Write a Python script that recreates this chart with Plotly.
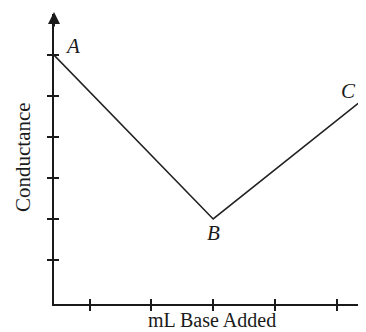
import plotly.graph_objects as go

# Data (axis units: x origin at 0, tick spacing 1; y ticks at 1..6)
point_labels = ["A", "B", "C"]
x_points = [0.0, 2.58, 5.04]
y_points = [6.0, 2.0, 4.95]
x_ticks = [0.58, 1.58, 2.58, 3.58, 4.58]
y_ticks = [1, 2, 3, 4, 5, 6]
x_title = "mL Base Added"
y_title = "Conductance"

ink = "#1a1a1a"
serif = "Liberation Serif"
xr = [0, 5.057]
yr = [-0.073, 7.0]

fig = go.Figure()
fig.add_trace(go.Scatter(x=x_points, y=y_points, mode="lines",
                         line=dict(color="#222222", width=1.6), hoverinfo="skip",
                         showlegend=False, cliponaxis=False))
# invisible trace on secondary axes so they render
fig.add_trace(go.Scatter(x=[x_points[0]], y=[y_points[0]], xaxis="x2", yaxis="y2",
                         mode="markers", marker=dict(opacity=0), showlegend=False,
                         hoverinfo="skip"))

label_shifts = {"A": (18, 9), "B": (0, -14), "C": (-16, 7)}
for lab, xv, yv in zip(point_labels, x_points, y_points):
    dx, dy = label_shifts[lab]
    fig.add_annotation(x=xv, y=yv, text="<i>" + lab + "</i>", showarrow=False,
                       xshift=dx, yshift=dy,
                       font=dict(family=serif, size=21, color=ink))

# axis titles
fig.add_annotation(xref="paper", yref="paper", x=0.506, y=-16 / 290,
                   xanchor="center", yanchor="middle", text=x_title, showarrow=False,
                   borderpad=0,
                   font=dict(family=serif, size=20, color=ink))
fig.add_annotation(xref="paper", yref="paper", x=-31 / 312, y=0.507,
                   xanchor="center", yanchor="middle", text=y_title, showarrow=False,
                   textangle=-90, font=dict(family=serif, size=21, color=ink))

# arrow head on top of y-axis
fig.add_annotation(xref="paper", yref="paper", x=0, y=1 + 2 / 290, ax=0, ay=16,
                   text="", showarrow=True, arrowhead=2, arrowsize=1.2,
                   arrowwidth=2, arrowcolor=ink)

common = dict(showgrid=False, zeroline=False, showline=True, linecolor=ink,
              linewidth=2, tickcolor=ink, tickwidth=2, ticklen=5,
              showticklabels=False)
fig.update_layout(
    width=358, height=324,
    margin=dict(l=46, r=0, t=6, b=28, pad=0),
    paper_bgcolor="white", plot_bgcolor="white",
    xaxis=dict(range=xr, tickvals=x_ticks, ticks="outside", **common),
    yaxis=dict(range=yr, tickvals=y_ticks, ticks="outside", **common),
    xaxis2=dict(range=xr, tickvals=x_ticks, ticks="inside",
                overlaying="x", side="bottom", **common),
    yaxis2=dict(range=yr, tickvals=y_ticks, ticks="inside",
                overlaying="y", side="left", **common),
)
fig.write_html("out.html")
